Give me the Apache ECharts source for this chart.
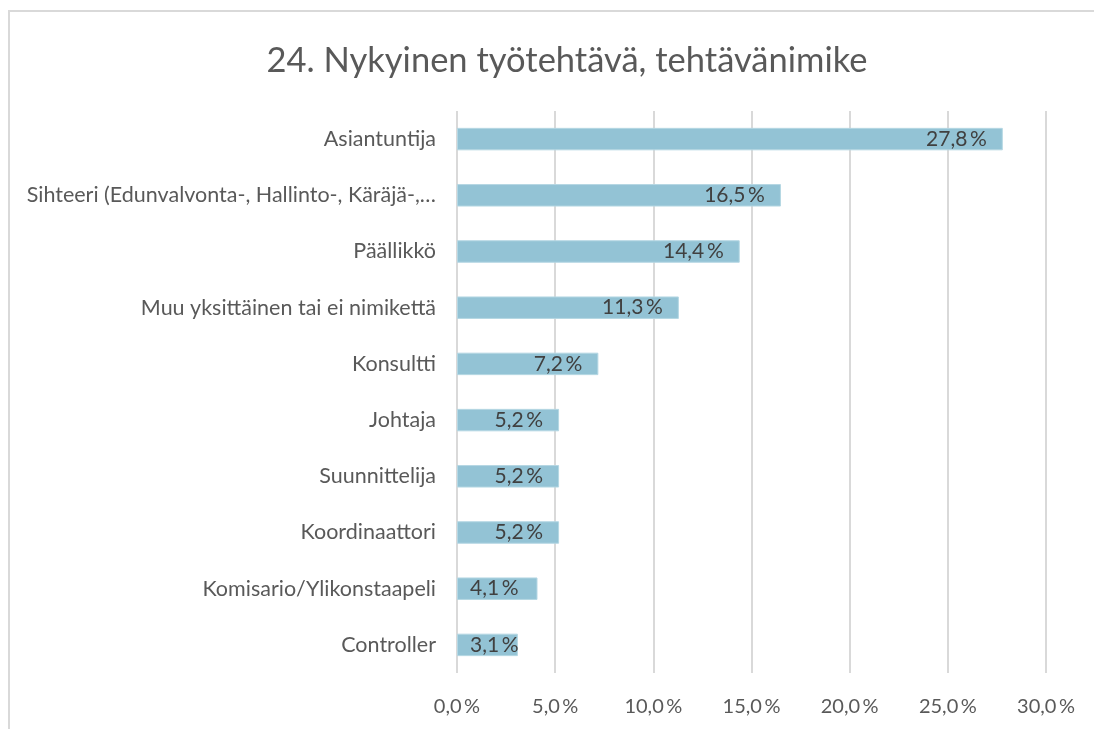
<!DOCTYPE html>
<html>
<head>
<meta charset="utf-8">
<script src="https://cdn.jsdelivr.net/npm/echarts@6/dist/echarts.min.js"></script>
<style>
  html, body { margin: 0; padding: 0; background: #fff; }
  #chart { width: 1094px; height: 729px; }
</style>
</head>
<body>
<div id="chart"></div>
<script>
// tehtävänimikkeet ylhäältä alas
const categories = [
    'Asiantuntija',
    'Sihteeri (Edunvalvonta-, Hallinto-, Käräjä-,…',
    'Päällikkö',
    'Muu yksittäinen tai ei nimikettä',
    'Konsultti',
    'Johtaja',
    'Suunnittelija',
    'Koordinaattori',
    'Komisario/Ylikonstaapeli',
    'Controller'
];
const shares = [27.8, 16.5, 14.4, 11.3, 7.2, 5.2, 5.2, 5.2, 4.1, 3.1];
const xTicks = [0, 5, 10, 15, 20, 25, 30];

const fmt = v => v.toFixed(1).replace('.', ',') + '\u2009%';
const font = 'Lato, "Liberation Sans", sans-serif';

// lyhyissä palkeissa teksti ei mahdu, joten se alkaa palkin alusta (kuten Excelissä)
const barData = shares.map(v => v < 4.5
    ? { value: v, label: { position: 'insideLeft', distance: 13 } }
    : v);

const chart = echarts.init(document.getElementById('chart'));
chart.setOption({
    backgroundColor: '#fff',
    animation: false,
    textStyle: { fontFamily: font },
    title: {
        text: '24. Nykyinen työtehtävä, tehtävänimike',
        left: 562,
        textAlign: 'center',
        top: 38,
        textStyle: { fontFamily: font, fontSize: 34.5, fontWeight: 'normal', color: '#595959' }
    },
    graphic: [{
        type: 'rect',
        shape: { x: 9, y: 11, width: 1090, height: 730 },
        style: { fill: 'none', stroke: '#d9d9d9', lineWidth: 2 },
        silent: true
    }],
    grid: { left: 457, right: 48, top: 111, bottom: 56 },
    xAxis: {
        type: 'value',
        min: xTicks[0],
        max: xTicks[xTicks.length - 1],
        interval: 5,
        axisLine: { show: false },
        axisTick: { show: false },
        splitLine: { lineStyle: { color: '#d9d9d9', width: 2 } },
        axisLabel: {
            margin: 24,
            fontSize: 20,
            color: '#595959',
            fontFamily: font,
            formatter: v => fmt(v)
        }
    },
    yAxis: {
        type: 'category',
        data: categories,
        inverse: true,
        axisLine: { show: false },
        axisTick: { show: false },
        axisLabel: { margin: 21, fontSize: 21.5, color: '#595959', fontFamily: font }
    },
    series: [{
        type: 'bar',
        data: barData,
        barWidth: '40%',
        itemStyle: { color: '#93c3d5', borderColor: '#b5d7e3', borderWidth: 1 },
        label: {
            show: true,
            position: 'insideRight',
            distance: 16,
            fontSize: 21,
            color: '#404040',
            fontFamily: font,
            formatter: p => fmt(p.value)
        }
    }]
});
</script>
</body>
</html>
